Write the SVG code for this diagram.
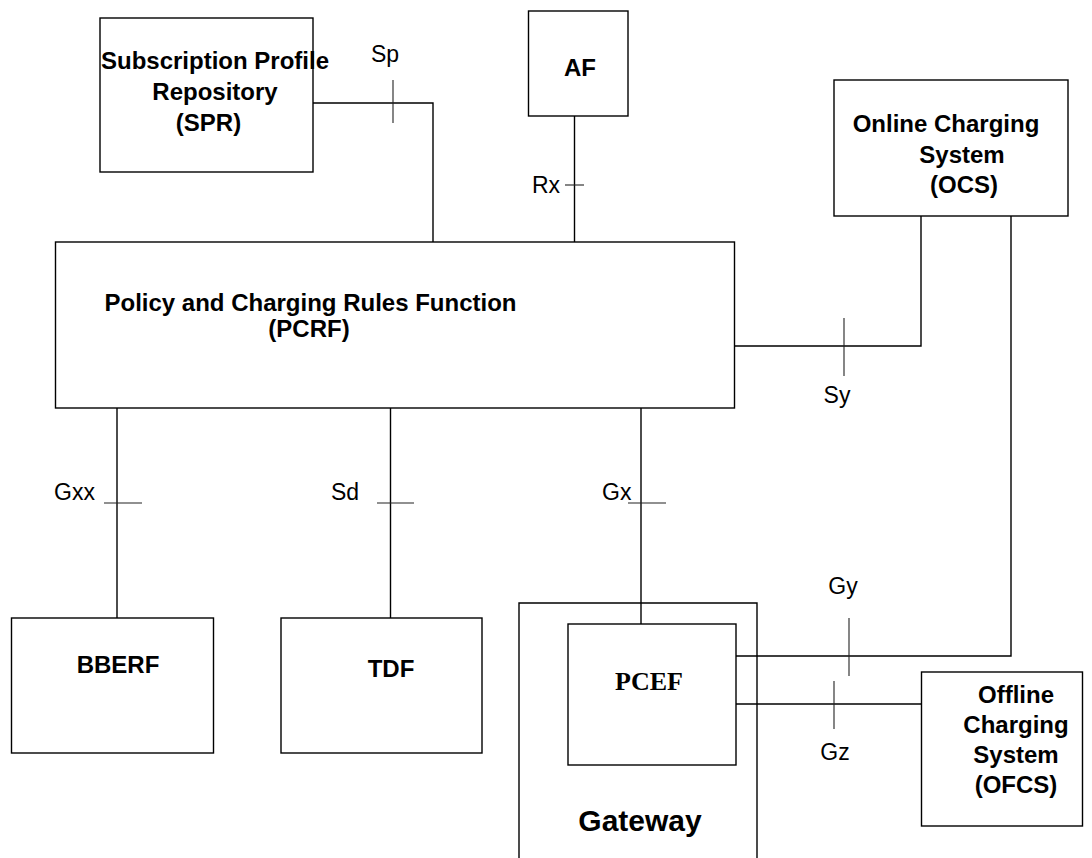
<svg xmlns="http://www.w3.org/2000/svg" width="1092" height="858" viewBox="0 0 1092 858">
<style>
.box{fill:#fff;stroke:#000;stroke-width:1.4}
.ln{fill:none;stroke:#000;stroke-width:1.4}
.tk{fill:none;stroke:#222;stroke-width:1.1}
.bt{font-family:"Liberation Sans",Arial,sans-serif;font-weight:bold;font-size:24px;fill:#000;text-anchor:middle}
.lb{font-family:"Liberation Sans",Arial,sans-serif;font-size:23px;fill:#000}
</style>
<rect width="1092" height="858" fill="#fff"/>
<g id="connectors">
<polyline class="ln" points="313,103 433,103 433,242"/>
<line class="tk" x1="393" y1="80" x2="393" y2="123"/>
<line class="ln" x1="574.5" y1="116" x2="574.5" y2="242"/>
<line class="tk" x1="565" y1="185" x2="584" y2="185"/>
<polyline class="ln" points="735,346 921,346 921,216"/>
<line class="tk" x1="844" y1="318" x2="844" y2="376"/>
<line class="ln" x1="117" y1="408" x2="117" y2="618"/>
<line class="tk" x1="104" y1="503" x2="142" y2="503"/>
<line class="ln" x1="390.5" y1="408" x2="390.5" y2="618"/>
<line class="tk" x1="377" y1="503" x2="414" y2="503"/>
<line class="ln" x1="641" y1="408" x2="641" y2="624"/>
<line class="tk" x1="628" y1="503" x2="666" y2="503"/>
<polyline class="ln" points="736,656 1011,656 1011,216"/>
<line class="tk" x1="849" y1="618" x2="849" y2="676"/>
<line class="ln" x1="736" y1="704" x2="921" y2="704"/>
<line class="tk" x1="834" y1="681" x2="834" y2="729"/>
<text class="lb" x="385" y="62" text-anchor="middle">Sp</text>
<text class="lb" x="560" y="193" text-anchor="end">Rx</text>
<text class="lb" x="837" y="403" text-anchor="middle">Sy</text>
<text class="lb" x="54" y="500">Gxx</text>
<text class="lb" x="331" y="500">Sd</text>
<text class="lb" x="602" y="500">Gx</text>
<text class="lb" x="843" y="594" text-anchor="middle">Gy</text>
<text class="lb" x="835" y="760" text-anchor="middle">Gz</text>
</g>
<g id="spr">
<rect class="box" x="100" y="18" width="213" height="154"/>
<text class="bt" x="215" y="69">Subscription Profile</text>
<text class="bt" x="215" y="100">Repository</text>
<text class="bt" x="208.5" y="131">(SPR)</text>
</g>
<g id="af">
<rect class="box" x="528.5" y="11" width="99.5" height="105"/>
<text class="bt" x="580" y="76">AF</text>
</g>
<g id="ocs">
<rect class="box" x="834" y="80" width="234" height="136"/>
<text class="bt" x="946" y="132">Online Charging</text>
<text class="bt" x="962" y="163">System</text>
<text class="bt" x="964" y="193">(OCS)</text>
</g>
<g id="pcrf">
<rect class="box" x="55.5" y="242" width="679" height="166"/>
<text class="bt" x="310.5" y="311">Policy and Charging Rules Function</text>
<text class="bt" x="309" y="337">(PCRF)</text>
</g>
<g id="bberf">
<rect class="box" x="11.5" y="618" width="202" height="135"/>
<text class="bt" x="118" y="673">BBERF</text>
</g>
<g id="tdf">
<rect class="box" x="281" y="618" width="201" height="135"/>
<text class="bt" x="391" y="677">TDF</text>
</g>
<g id="gateway">
<polyline class="ln" points="519,862 519,603 757,603 757,862"/>
<text class="bt" x="640" y="831" style="font-size:30px">Gateway</text>
</g>
<g id="pcef">
<rect class="box" x="568" y="624" width="168" height="141"/>
<text x="649" y="690" text-anchor="middle" style="font-family:'Liberation Serif','Times New Roman',serif;font-weight:bold;font-size:26px">PCEF</text>
</g>
<g id="ofcs">
<rect class="box" x="921.5" y="672" width="161" height="154"/>
<text class="bt" x="1016" y="703">Offline</text>
<text class="bt" x="1016" y="733">Charging</text>
<text class="bt" x="1016" y="763">System</text>
<text class="bt" x="1016" y="793">(OFCS)</text>
</g>
</svg>
